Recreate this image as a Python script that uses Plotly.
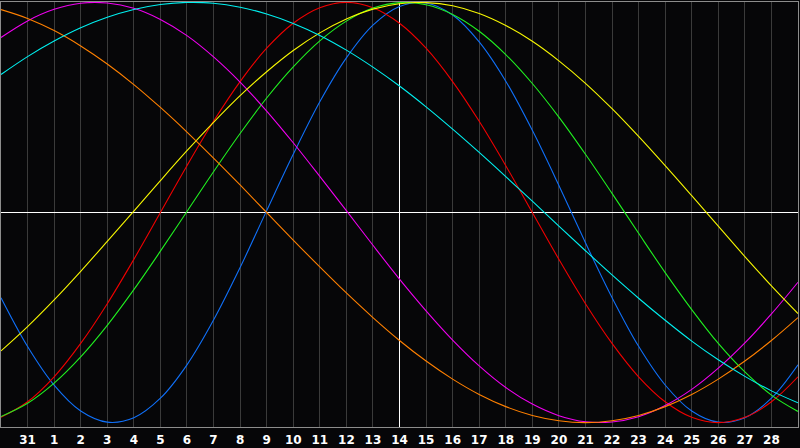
import plotly.graph_objects as go

# day positions: 31 (prev month) = 0, then 1..28
days = list(range(-1, 30))
tick_vals = list(range(0, 29))
tick_text = ["31"] + [str(i) for i in range(1, 29)]
today = 14

# curve values in percent at each day position (-1..29)
blue = [-40.6, -63.8, -82.2, -94.5, -99.8, -97.7, -88.4, -72.5, -51.2, -26.2, 0.9,
        27.7, 52.7, 73.6, 89.2, 98.1, 99.7, 94.0, 81.2, 62.5, 39.1, 12.9, -14.4,
        -40.5, -63.7, -82.1, -94.5, -99.8, -97.7, -88.4, -72.5]
red = [-97.5, -90.1, -78.2, -62.3, -43.4, -22.3, 0.0, 22.3, 43.4, 62.3, 78.2,
       90.1, 97.5, 100.0, 97.5, 90.1, 78.2, 62.3, 43.4, 22.3, 0.0, -22.3, -43.4,
       -62.3, -78.2, -90.1, -97.5, -100.0, -97.5, -90.1, -78.2]
green = [-97.1, -90.8, -81.2, -68.7, -53.7, -36.7, -18.4, 0.5, 19.4, 37.6, 54.5,
         69.3, 81.7, 91.1, 97.3, 99.9, 98.9, 94.3, 86.3, 75.2, 61.4, 45.4, 27.7,
         9.1, -9.9, -28.6, -46.2, -62.3, -75.9, -86.9, -94.7]
magenta = [83.3, 91.2, 96.7, 99.6, 99.7, 97.2, 91.9, 84.2, 74.1, 62.1, 48.3,
           33.2, 17.2, 0.9, -15.6, -31.7, -46.8, -60.7, -73.0, -83.3, -91.2, -96.7,
           -99.6, -99.7, -97.2, -91.9, -84.2, -74.1, -62.1, -48.3, -33.2]
yellow = [-65.9, -54.3, -41.6, -28.0, -13.7, 0.7, 15.2, 29.4, 42.9, 55.6, 67.0,
          77.1, 85.5, 92.1, 96.8, 99.4, 99.9, 98.4, 94.7, 89.0, 81.5, 72.2, 61.5,
          49.4, 36.2, 22.3, 8.0, -6.5, -21.0, -34.9, -48.1]
orange = [96.6, 92.4, 86.6, 79.3, 70.7, 60.9, 50.0, 38.3, 25.9, 13.1, 0.0,
          -13.1, -25.9, -38.3, -50.0, -60.9, -70.7, -79.3, -86.6, -92.4, -96.6,
          -99.1, -100.0, -99.1, -96.6, -92.4, -86.6, -79.3, -70.7, -60.9, -50.0]
cyan = [65.7, 74.2, 81.6, 87.9, 92.9, 96.6, 99.0, 100.0, 99.6, 97.7, 94.5,
        90.0, 84.3, 77.3, 69.2, 60.2, 50.3, 39.7, 28.6, 17.1, 5.4, -6.5, -18.2,
        -29.7, -40.8, -51.3, -61.2, -70.1, -78.0, -84.9, -90.6]

series = [
    (blue, "#1070f8"),
    (red, "#f00000"),
    (green, "#20f020"),
    (magenta, "#f000f0"),
    (yellow, "#f8f800"),
    (orange, "#ff8000"),
    (cyan, "#00f0f0"),
]

y_lo, y_hi = -102.1, 100.2

fig = go.Figure()
# white "today" line, under the curves
fig.add_trace(go.Scatter(
    x=[today, today], y=[y_lo, y_hi], mode="lines",
    line=dict(color="white", width=1), hoverinfo="skip", showlegend=False,
))
for vals, col in series:
    fig.add_trace(go.Scatter(
        x=days, y=vals, mode="lines",
        line=dict(color=col, width=1.1, shape="spline"),
        hoverinfo="skip", showlegend=False,
    ))

fig.update_layout(
    width=800, height=448,
    margin=dict(l=1, r=1, t=1, b=20),
    paper_bgcolor="#060608",
    plot_bgcolor="#060608",
    showlegend=False,
)
fig.update_xaxes(
    range=[-1, 29], tickvals=tick_vals, ticktext=tick_text,
    showgrid=True, gridcolor="#3a3a3a", gridwidth=1,
    zeroline=False, showline=True, linecolor="#8c8c8c", linewidth=1, mirror=True,
    ticks="", ticklabelstandoff=2,
    tickfont=dict(color="white", size=12, family="DejaVu Sans", weight="bold"),
)
fig.update_yaxes(
    range=[y_lo, y_hi], showticklabels=False, showgrid=False,
    zeroline=True, zerolinecolor="white", zerolinewidth=1,
    showline=True, linecolor="#8c8c8c", linewidth=1, mirror=True,
)

fig.write_html("out.html", config={"displayModeBar": False},
               post_script="document.body.style.margin='0';")
